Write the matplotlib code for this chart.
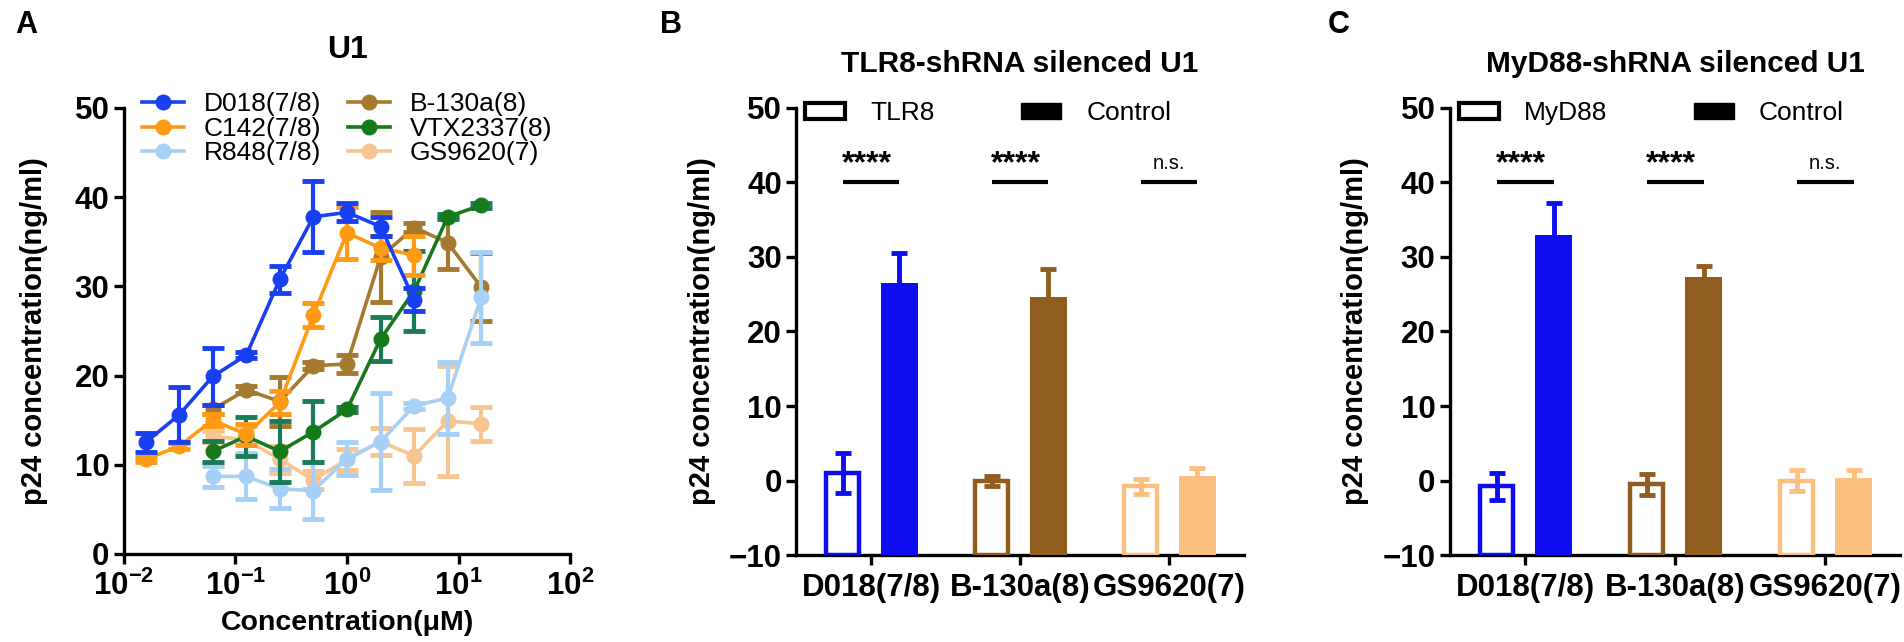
import numpy as np
import matplotlib
matplotlib.use("Agg")
import matplotlib.pyplot as plt
from matplotlib.patches import Patch

plt.rcParams["font.family"] = ["Liberation Sans", "DejaVu Sans"]
plt.rcParams["mathtext.fontset"] = "custom"
plt.rcParams["mathtext.rm"] = "Liberation Sans"
plt.rcParams["mathtext.bf"] = "Liberation Sans:bold"

# ---- panel A data: dose response in U1 cells ----
conc = [0.015625, 0.03125, 0.0625, 0.125, 0.25, 0.5, 1, 2, 4, 8, 16]
nan = np.nan
d018_mean = [12.5, 15.6, 19.9, 22.3, 30.8, 37.8, 38.3, 36.7, 28.5, nan, nan]
d018_err = [1.1, 3.1, 3.2, 0.3, 1.5, 4.0, 1.0, 1.1, 1.3, nan, nan]
c142_mean = [10.6, 12.1, 15.0, 13.4, 17.0, 26.8, 36.0, 34.3, 33.5, nan, nan]
c142_err = [0.3, 0.3, 0.7, 1.2, 1.3, 1.3, 2.9, 1.3, 2.2, nan, nan]
r848_mean = [nan, nan, 8.7, 8.7, 7.3, 7.1, 10.7, 12.6, 16.6, 17.5, 28.8]
r848_err = [nan, nan, 1.2, 2.5, 2.2, 3.2, 1.8, 5.4, 0.3, 4.0, 5.1]
b130a_mean = [nan, nan, 16.2, 18.4, 17.1, 21.1, 21.3, 33.3, 36.6, 34.9, 29.9]
b130a_err = [nan, nan, 0.5, 0.4, 2.7, 0.4, 1.0, 5.0, 0.5, 2.9, 3.8]
vtx_mean = [nan, nan, 11.5, 13.2, 11.5, 13.7, 16.2, 24.1, 29.5, 37.8, 39.1]
vtx_err = [nan, nan, 1.2, 2.2, 3.4, 3.4, 0.3, 2.5, 4.5, 0.3, 0.3]
gs_mean = [nan, nan, 13.2, 12.8, 10.6, 8.3, 10.6, 12.6, 11.0, 14.9, 14.6]
gs_err = [nan, nan, 0.6, 1.5, 1.5, 1.0, 1.2, 1.5, 3.0, 6.2, 1.9]

# ---- panels B and C: knockdown bars ----
groups = ["D018(7/8)", "B-130a(8)", "GS9620(7)"]
tlr8_mean = [1.0, -0.1, -0.8]
tlr8_err = [2.7, 0.7, 1.0]
tlr8_ctrl_mean = [26.5, 24.6, 0.6]
tlr8_ctrl_err = [4.1, 3.8, 1.1]
tlr8_sig = ["****", "****", "n.s."]

myd88_mean = [-0.8, -0.5, 0.0]
myd88_err = [1.8, 1.4, 1.4]
myd88_ctrl_mean = [32.9, 27.3, 0.4]
myd88_ctrl_err = [4.3, 1.5, 1.0]
myd88_sig = ["****", "****", "n.s."]

bar_colors = ["#0d0df0", "#8f5e1e", "#fdbf80"]

LW = 2.4
TICK_FS = 22.5


def style_axes(ax):
    for s in ["top", "right"]:
        ax.spines[s].set_visible(False)
    for s in ["left", "bottom"]:
        ax.spines[s].set_linewidth(LW)
    ax.tick_params(width=LW, length=7, labelsize=TICK_FS, direction="out")
    for lab in ax.get_yticklabels() + ax.get_xticklabels():
        lab.set_fontweight("bold")


fig = plt.figure(figsize=(19.04, 6.42), dpi=100)

# ---------------- panel A ----------------
axA = fig.add_axes([0.0651, 0.1371, 0.2343, 0.6947])
series = [
    ("GS9620(7)", gs_mean, gs_err, "#f7c590", "#f7c590"),
    ("B-130a(8)", b130a_mean, b130a_err, "#a67a2e", "#a67a2e"),
    ("R848(7/8)", r848_mean, r848_err, "#a6d0f5", "#a6d0f5"),
    ("VTX2337(8)", vtx_mean, vtx_err, "#167a1c", "#1b7a58"),
    ("C142(7/8)", c142_mean, c142_err, "#ff9a14", "#ff9a14"),
    ("D018(7/8)", d018_mean, d018_err, "#1840f0", "#1840f0"),
]
handles = {}
for i, (name, m, e, col, ecol) in enumerate(series):
    m = np.array(m, dtype=float)
    e = np.array(e, dtype=float)
    ok = ~np.isnan(m)
    x = np.array(conc)[ok]
    axA.errorbar(x, m[ok], yerr=e[ok], fmt="none", ecolor=ecol,
                 elinewidth=3, capsize=8, capthick=3.5, zorder=2 + i)
    ln, = axA.plot(x, m[ok], "-o", color=col, lw=2.6, ms=10.5,
                   label=name, zorder=2.5 + i)
    handles[name] = ln

axA.set_xscale("log")
axA.set_xlim(1e-2, 1e2)
axA.set_ylim(0, 50)
axA.set_yticks([0, 10, 20, 30, 40, 50])
axA.set_xticks([1e-2, 1e-1, 1e0, 1e1, 1e2],
               [r"$\mathbf{10^{-2}}$", r"$\mathbf{10^{-1}}$", r"$\mathbf{10^{0}}$",
                r"$\mathbf{10^{1}}$", r"$\mathbf{10^{2}}$"])
axA.xaxis.set_minor_locator(matplotlib.ticker.NullLocator())
style_axes(axA)
axA.tick_params(axis="x", pad=5)
axA.set_xlabel("Concentration(μM)", fontsize=20.5, fontweight="bold", labelpad=6)
axA.set_ylabel("p24 concentration(ng/ml)", fontsize=21, fontweight="bold")
axA.yaxis.set_label_coords(-0.17, 0.5)
axA.text(0.5, 1.13, "U1", transform=axA.transAxes, ha="center", va="center",
         fontsize=23, fontweight="bold")
order = ["D018(7/8)", "C142(7/8)", "R848(7/8)", "B-130a(8)", "VTX2337(8)", "GS9620(7)"]
leg = axA.legend([handles[n] for n in order], order, ncol=2, loc="upper left",
                 bbox_to_anchor=(0.04, 1.035), frameon=False, fontsize=19,
                 handlelength=1.6, handletextpad=0.75, columnspacing=1.0,
                 labelspacing=0.02, borderpad=0, borderaxespad=0)


# ---------------- panels B, C ----------------
def bar_panel(rect, knock_mean, knock_err, ctrl_mean, ctrl_err, sig, knock_name, title):
    ax = fig.add_axes(rect)
    ymin = -10
    xs = np.arange(len(groups))
    off = 0.19
    for i, x in enumerate(xs):
        col = bar_colors[i]
        # control (filled) bar, error bar behind it
        ax.errorbar(x + off, ctrl_mean[i], yerr=ctrl_err[i], fmt="none", ecolor=col,
                    elinewidth=3.5, capsize=6, capthick=3.5, zorder=2)
        ax.bar(x + off, ctrl_mean[i] - ymin, bottom=ymin, width=0.25,
               color=col, edgecolor="none", zorder=3)
        # knockdown (open) bar
        ax.bar(x - off, knock_mean[i] - ymin, bottom=ymin, width=0.222,
               facecolor="white", edgecolor=col, linewidth=3.2, zorder=3)
        ax.errorbar(x - off, knock_mean[i], yerr=knock_err[i], fmt="none", ecolor=col,
                    elinewidth=3.5, capsize=6, capthick=3.5, zorder=4)
        # significance bracket
        ax.plot([x - off, x + off], [40, 40], color="black", lw=3, zorder=5,
                solid_capstyle="butt")
        if sig[i] == "n.s.":
            ax.text(x, 41.3, sig[i], ha="center", va="bottom", fontsize=14.5)
        else:
            ax.text(x - 0.03, 40.5, sig[i], ha="center", va="bottom", fontsize=23,
                    fontweight="bold")
    ax.set_xlim(-0.5, len(groups) - 0.5)
    ax.set_ylim(ymin, 50)
    ax.set_yticks(np.arange(-10, 51, 10))
    ax.set_xticks(xs, groups)
    style_axes(ax)
    ax.tick_params(axis="x", pad=6)
    ax.set_ylabel("p24 concentration(ng/ml)", fontsize=21, fontweight="bold")
    ax.yaxis.set_label_coords(-0.18, 0.5)
    ax.text(0.5, 1.098, title, transform=ax.transAxes, ha="center", va="center",
            fontsize=21.5, fontweight="bold")
    h = [Patch(facecolor="white", edgecolor="black", linewidth=3),
         Patch(facecolor="black", edgecolor="black")]
    ax.legend(h, [knock_name, "Control"], ncol=2, loc="upper left",
              bbox_to_anchor=(0.02, 1.015), frameon=False, fontsize=19,
              handlelength=1.5, handleheight=0.55, handletextpad=0.95,
              columnspacing=3.3, borderpad=0, borderaxespad=0)
    return ax


bar_panel([0.4183, 0.1355, 0.2348, 0.6963], tlr8_mean, tlr8_err, tlr8_ctrl_mean,
          tlr8_ctrl_err, tlr8_sig, "TLR8", "TLR8-shRNA silenced U1")
bar_panel([0.7616, 0.1355, 0.2363, 0.6963], myd88_mean, myd88_err, myd88_ctrl_mean,
          myd88_ctrl_err, myd88_sig, "MyD88", "MyD88-shRNA silenced U1")

for lbl, x in [("A", 0.0137), ("B", 0.3524), ("C", 0.703)]:
    fig.text(x, 0.961, lbl, ha="center", va="center", fontsize=22, fontweight="bold")

fig.savefig("out.png", dpi=100, facecolor="white")
